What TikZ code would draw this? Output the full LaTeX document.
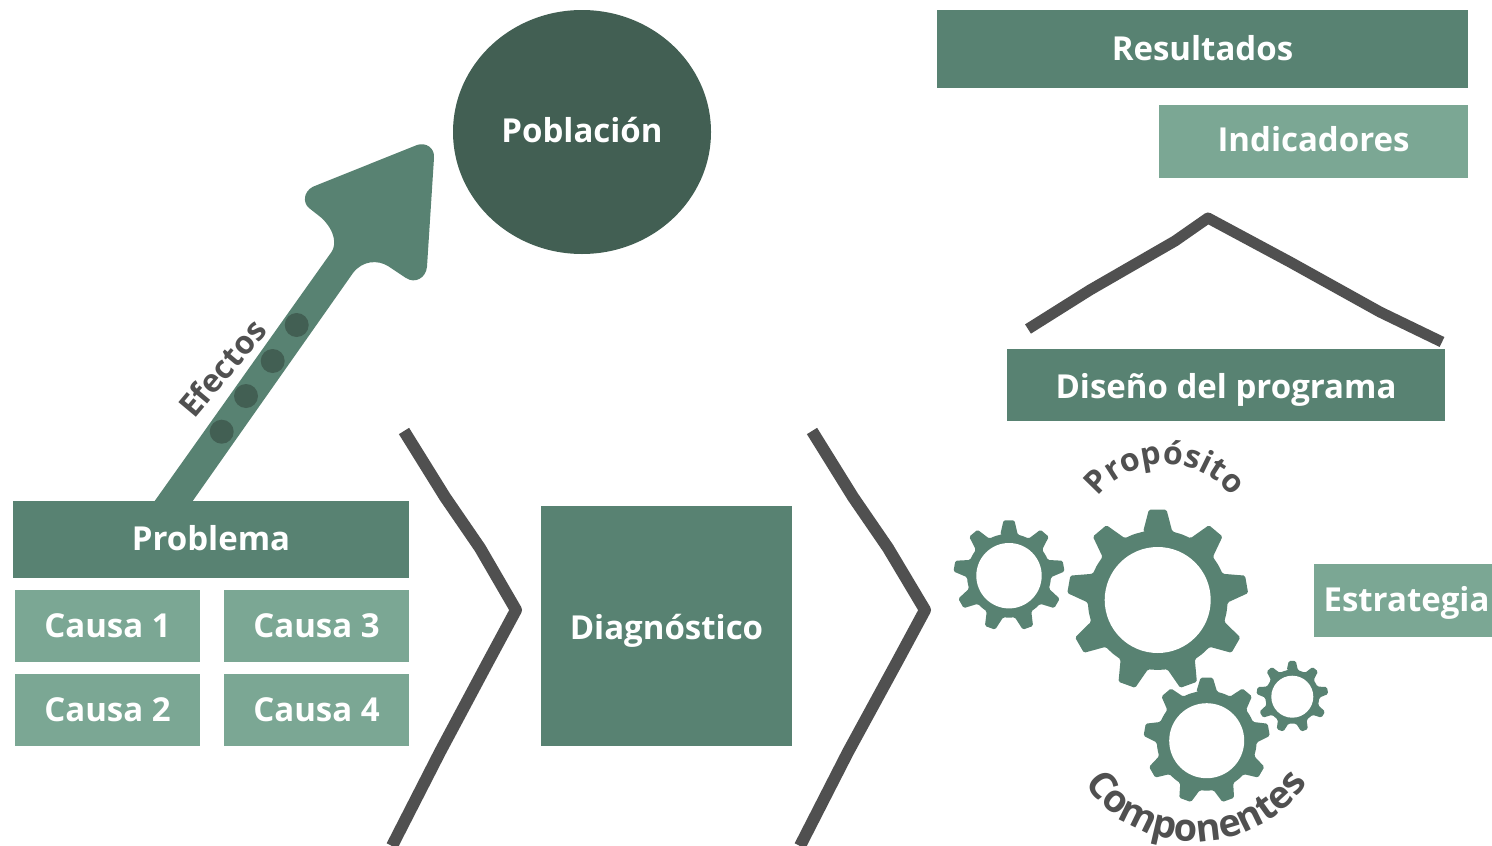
\documentclass[tikz,border=0pt]{standalone}
\usepackage{fontspec}
\setmainfont{Open Sans}
\usetikzlibrary{decorations.text,shapes.geometric}
\definecolor{gA}{HTML}{588272}
\definecolor{gB}{HTML}{7BA794}
\definecolor{gC}{HTML}{425F53}
\definecolor{gK}{HTML}{505050}
\tikzset{x=1pt,y=-1pt,
 lab/.style={text=white,font=\fontsize{33}{37}\selectfont\bfseries,inner sep=0pt,text height=28pt,text depth=6pt},
 boxa/.style={lab,fill=gA,draw=none},
 boxb/.style={lab,fill=gB,draw=none},
 inkline/.style={draw=gK,line width=11pt,line join=round},
 bead/.style={circle,fill=gC,inner sep=0pt,minimum size=24pt},
 arclab/.style={decorate,decoration={text along path,text align=center,text={#1}}}}
\newcommand{\cogwheel}[6]{% cx cy outer root hole name
 \begin{scope}[shift={(#1,#2)}]
 \fill[gA,even odd rule,rounded corners=1.5pt]
  (-100:#4)
  \foreach \k in {0,...,8}{
   -- ({-90+\k*40-0.30*40}:#4)
   -- ({-90+\k*40-0.14*40}:#3)
   -- ({-90+\k*40+0.14*40}:#3)
   -- ({-90+\k*40+0.30*40}:#4)
   -- ({-90+\k*40+0.5*40}:#4)
  } -- cycle;
 \fill[white] (0,0) circle[radius=#5];
 \coordinate (#6) at (0,0);
 \end{scope}}
\begin{document}
\begin{tikzpicture}
\useasboundingbox (0,0) rectangle (1492,846);
% boxes
\node[boxa,minimum width=531,minimum height=78] (resultados) at (1202.5,49) {Resultados};
\node[boxb,text depth=8pt,minimum width=309,minimum height=73] (indicadores) at (1313.5,141.5) {Indicadores};
\node[boxa,text depth=2pt,minimum width=438,minimum height=72] (diseno) at (1226,385) {Diseño del programa};
\node[boxb,minimum width=178,minimum height=73] (estrategia) at (1403,600.5) {\hspace*{7pt}Estrategia};
\node[boxa,minimum width=396,minimum height=77] (problema) at (211,539.5) {Problema};
\node[boxb,minimum width=185,minimum height=72] (causaA) at (107.5,626) {Causa 1};
\node[boxb,minimum width=185,minimum height=72] (causaC) at (316.5,626) {Causa 3};
\node[boxb,minimum width=185,minimum height=72] (causaB) at (107.5,710) {Causa 2};
\node[boxb,minimum width=185,minimum height=72] (causaD) at (316.5,710) {Causa 4};
\node[boxa,text depth=2pt,minimum width=251,minimum height=240] (diagnostico) at (666.5,626) {Diagnóstico};
\node[ellipse,lab,text depth=8pt,fill=gC,minimum width=258,minimum height=244] (poblacion) at (582,132) {Población};
% arrow
\fill[gA] (154.7,501) -- (331.7,251.7) .. controls (336,245) and (336,232) .. (321.7,218)
 -- (309,208) .. controls (303,203) and (303,192) .. (313,186.7)
 -- (417,145) .. controls (426,142) and (435,148) .. (434,158)
 -- (427,266.7) .. controls (426,278) and (415,284) .. (406,278)
 -- (388,266) .. controls (378,260) and (363,260) .. (353,273)
 -- (192.7,501) -- cycle;
\node[bead] (b1) at (296.7,325) {};
\node[bead] (b2) at (272.7,361) {};
\node[bead] (b3) at (246,396) {};
\node[bead] (b4) at (221.7,431.7) {};
\node[rotate=50,text=gK,font=\fontsize{32}{36}\selectfont\bfseries,inner sep=0pt] (efectos) at (222,368) {Efectos};
% chevrons and roof
\draw[inkline,line width=12pt] (404,431) -- (445,497) -- (480,548) -- (516,610) -- (488,662) -- (440,752) -- (392,846);
\draw[inkline,line width=12pt] (812,431) -- (853,497) -- (888,548) -- (925,610) -- (897,662) -- (848,752) -- (800,846);
\draw[inkline] (1028,329) -- (1090,290) -- (1175,241) -- (1208,218) -- (1290,262) -- (1380,312) -- (1442,342);
% gears
\cogwheel{1157.7}{600}{90.7}{70}{53}{gearBig}
\cogwheel{1009}{575.7}{55.7}{42}{32.7}{gearLeft}
\cogwheel{1206.7}{740.7}{63.3}{50}{37.5}{gearLow}
\cogwheel{1292.3}{696.7}{36}{27}{21}{gearSmall}
% curved labels
\path[arclab={|\fontsize{32}{36}\selectfont\bfseries\color{gK}|Propósito}] plot[domain=-170:-10,samples=50] ({1165+84*cos(\x)},{548+84*sin(\x)});
\path[arclab={|\fontsize{38}{42}\selectfont\bfseries\color{gK}|Componentes}] plot[domain=170:10,samples=50] ({1196+135*cos(\x)},{707+135*sin(\x)});
\end{tikzpicture}
\end{document}
